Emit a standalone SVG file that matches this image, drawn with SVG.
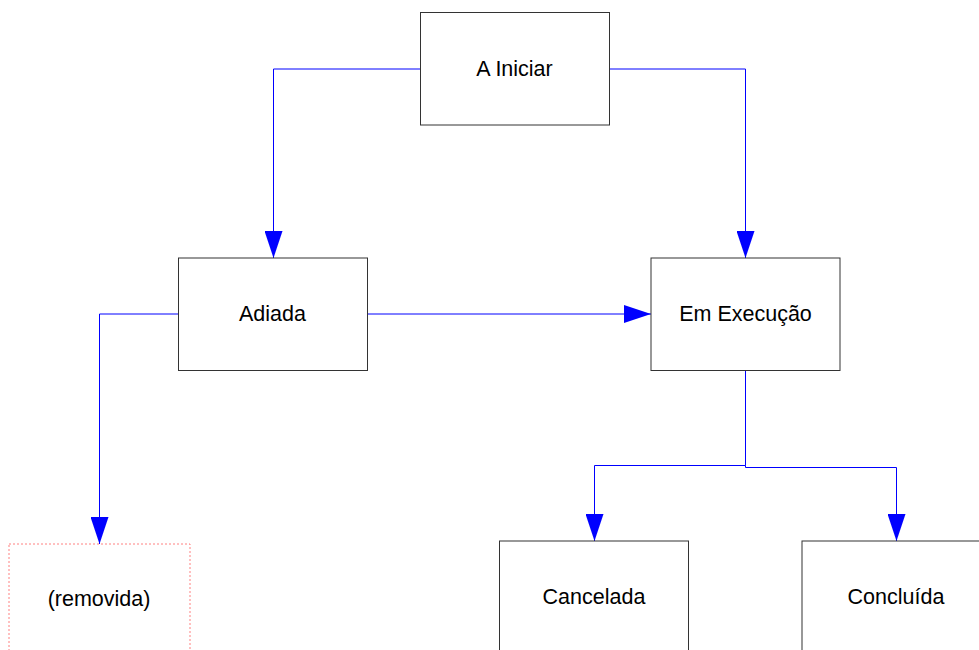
<svg xmlns="http://www.w3.org/2000/svg" width="979" height="650" viewBox="0 0 979 650">
<defs>
<marker id="arr" markerUnits="userSpaceOnUse" markerWidth="27" markerHeight="18" refX="27" refY="9" viewBox="0 0 27 18" orient="auto">
<path d="M0,0 L27,9 L0,18 Z" fill="#0000ff"/>
</marker>
<style>
.box{fill:#fff;stroke:#333;stroke-width:1}
.rem{fill:#fff;stroke:#ff8080;stroke-width:1;stroke-dasharray:2,2}
.lbl{font-family:"Liberation Sans",Arial,sans-serif;font-size:21.5px;fill:#000;text-anchor:middle}
.c{fill:none;stroke:#0000ff;stroke-width:1}
</style>
</defs>
<rect width="979" height="650" fill="#fff"/>
<g id="connectors">
<path class="c" d="M420.5,69 H273.5 V258" marker-end="url(#arr)"/>
<path class="c" d="M609.5,69 H745.5 V258" marker-end="url(#arr)"/>
<path class="c" d="M367.5,314 H651" marker-end="url(#arr)"/>
<path class="c" d="M178.5,314 H99.5 V544" marker-end="url(#arr)"/>
<path class="c" d="M745.5,371 V465.5 H594.5 V541" marker-end="url(#arr)"/>
<path class="c" d="M745.5,465.5 V467.5 H896.5 V541" marker-end="url(#arr)"/>
</g>
<g id="a-iniciar"><rect class="box" x="420.5" y="12.5" width="189" height="112.5"/><text class="lbl" x="514.5" y="76">A Iniciar</text></g>
<g id="adiada"><rect class="box" x="178.5" y="258" width="189" height="112.5"/><text class="lbl" x="272.5" y="321">Adiada</text></g>
<g id="em-execucao"><rect class="box" x="651" y="258" width="189" height="112.5"/><text class="lbl" x="745.5" y="321">Em Execução</text></g>
<g id="removida"><rect class="rem" x="9" y="544" width="181" height="112.5"/><text class="lbl" x="99" y="606">(removida)</text></g>
<g id="cancelada"><rect class="box" x="499.5" y="541" width="189" height="112.5"/><text class="lbl" x="594" y="604">Cancelada</text></g>
<g id="concluida"><rect class="box" x="802" y="541" width="189" height="112.5"/><text class="lbl" x="896" y="604">Concluída</text></g>
</svg>
